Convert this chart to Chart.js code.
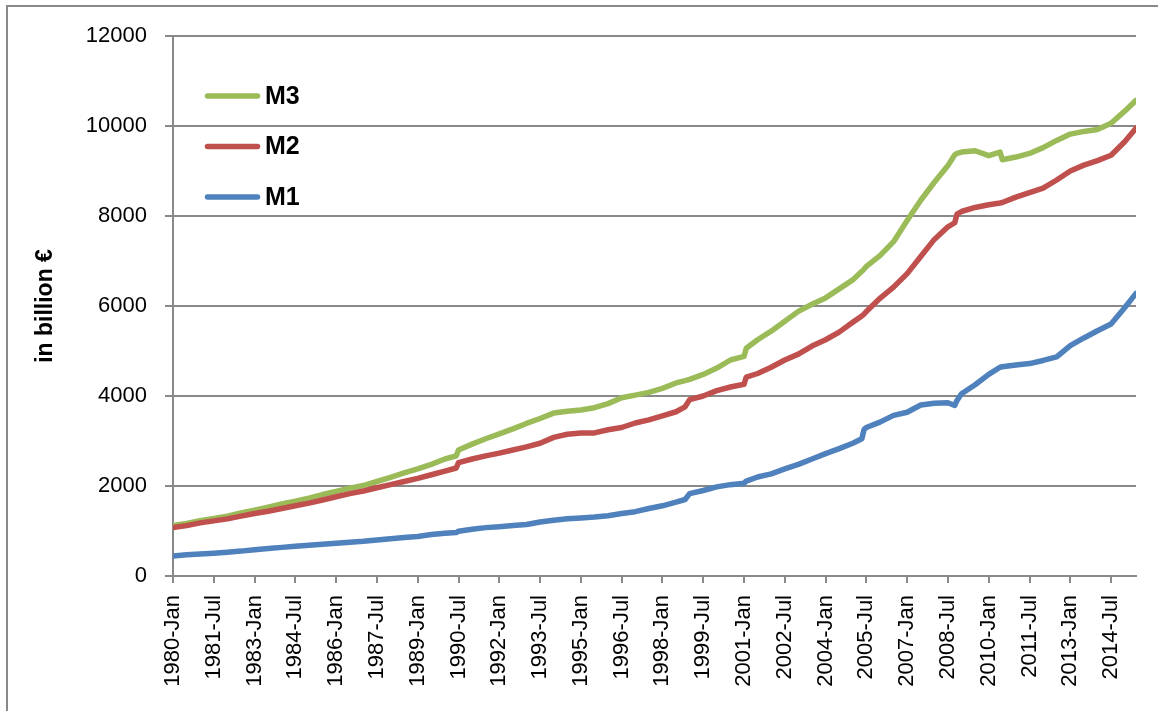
<!DOCTYPE html>
<html>
<head>
<meta charset="utf-8">
<title>M1 M2 M3</title>
<script src="https://cdn.jsdelivr.net/npm/chart.js@4.4.1/dist/chart.umd.min.js"></script>
<style>
  html, body { margin: 0; padding: 0; background: #fff; }
  #wrap { width: 1158px; height: 711px; }
</style>
</head>
<body>
<div id="wrap"><canvas id="moneyChart" width="1158" height="711"></canvas></div>
<script>
// month index, 0 = 1980-Jan
var months = [0, 6, 12, 18, 24, 30, 36, 42, 48, 54, 60, 66, 72, 78, 84, 90, 96, 102, 108, 114,
  120, 125, 126, 132, 138, 144, 150, 156, 162, 168, 174, 180, 186, 192, 198, 204, 210, 216, 222,
  226, 228, 234, 240, 246, 252, 253, 258, 264, 270, 276, 282, 288, 294, 300, 304, 305, 306, 312,
  318, 324, 330, 336, 342, 345, 346, 348, 354, 360, 365, 366, 372, 378, 384, 390, 396, 402, 408,
  414, 420, 425];

var m1 = [445, 470, 490, 508, 528, 553, 585, 612, 636, 660, 685, 707, 730, 752, 772, 800, 830, 855, 880, 920,
  950, 965, 995, 1040, 1075, 1095, 1120, 1145, 1200, 1240, 1270, 1290, 1310, 1340, 1390, 1430, 1500, 1560, 1640,
  1700, 1830, 1900, 1980, 2030, 2060, 2110, 2200, 2270, 2380, 2480, 2600, 2720, 2830, 2950, 3050, 3260, 3300, 3420,
  3570, 3640, 3800, 3840, 3850, 3790, 3900, 4050, 4250, 4480, 4640, 4650, 4690, 4720, 4790, 4870, 5120, 5290, 5450,
  5600, 5960, 6280];

var m2 = [1075, 1120, 1180, 1225, 1270, 1330, 1390, 1440, 1500, 1560, 1620, 1690, 1760, 1830, 1890, 1960, 2030, 2100, 2170, 2250,
  2330, 2400, 2520, 2600, 2670, 2730, 2800, 2870, 2950, 3080, 3150, 3180, 3180, 3250, 3300, 3400, 3470, 3560, 3650,
  3760, 3920, 4000, 4120, 4200, 4260, 4420, 4500, 4640, 4800, 4930, 5110, 5250, 5420, 5640, 5780, 5820, 5880, 6170,
  6420, 6720, 7100, 7480, 7760, 7850, 8040, 8100, 8190, 8250, 8290, 8300, 8420, 8520, 8620, 8800, 9000, 9130, 9230,
  9350, 9650, 9950];

var m3 = [1120, 1170, 1230, 1280, 1330, 1400, 1460, 1530, 1600, 1660, 1730, 1810, 1880, 1950, 2010, 2100, 2190, 2290, 2380, 2480,
  2600, 2670, 2800, 2930, 3050, 3160, 3270, 3390, 3500, 3620, 3660, 3690, 3740, 3830, 3960, 4020, 4080, 4170, 4290,
  4340, 4370, 4480, 4620, 4800, 4880, 5060, 5250, 5440, 5660, 5880, 6040, 6180, 6380, 6580, 6770, 6820, 6880, 7120,
  7430, 7900, 8350, 8750, 9120, 9360, 9390, 9420, 9450, 9340, 9420, 9250, 9310, 9390, 9520, 9680, 9820, 9880, 9920,
  10060, 10330, 10570];

var tickMonths = [0, 18, 36, 54, 72, 90, 108, 126, 144, 162, 180, 198, 216, 234, 252, 270, 288, 306, 324, 342, 360, 378, 396, 414];
var tickLabels = ['1980-Jan', '1981-Jul', '1983-Jan', '1984-Jul', '1986-Jan', '1987-Jul', '1989-Jan', '1990-Jul',
  '1992-Jan', '1993-Jul', '1995-Jan', '1996-Jul', '1998-Jan', '1999-Jul', '2001-Jan', '2002-Jul', '2004-Jan',
  '2005-Jul', '2007-Jan', '2008-Jul', '2010-Jan', '2011-Jul', '2013-Jan', '2014-Jul'];
var yTicks = [0, 2000, 4000, 6000, 8000, 10000, 12000];

var FONT = '"Liberation Sans", Arial, sans-serif';
var GRID = '#898989';

function points(values) {
    return values.map(function(v, i) { return { x: months[i], y: v }; });
}

// white background + the outer chart frame
var framePlugin = {
    id: 'frame',
    beforeDraw: function(chart) {
        var ctx = chart.ctx;
        ctx.save();
        ctx.fillStyle = '#fff';
        ctx.fillRect(0, 0, chart.width, chart.height);
        ctx.strokeStyle = GRID;
        ctx.lineWidth = 2;
        ctx.beginPath();
        ctx.moveTo(7, chart.height);
        ctx.lineTo(7, 6);
        ctx.lineTo(chart.width, 6);
        ctx.stroke();
        ctx.restore();
    }
};

// legend sits inside the plot, top left, M3 first
var legendPlugin = {
    id: 'insideLegend',
    afterDraw: function(chart) {
        var ctx = chart.ctx, area = chart.chartArea;
        var items = chart.data.datasets.slice().reverse();
        ctx.save();
        ctx.font = 'bold 25px ' + FONT;
        ctx.textBaseline = 'middle';
        items.forEach(function(ds, i) {
            var y = area.top + 60 + i * 50.5;
            ctx.strokeStyle = ds.borderColor;
            ctx.lineWidth = 5.5;
            ctx.lineCap = 'round';
            ctx.beginPath();
            ctx.moveTo(area.left + 34.5, y);
            ctx.lineTo(area.left + 84.5, y);
            ctx.stroke();
            ctx.fillStyle = '#000';
            ctx.fillText(ds.label, area.left + 92, y + 1);
        });
        ctx.restore();
    }
};

new Chart(document.getElementById('moneyChart'), {
    type: 'line',
    data: {
        datasets: [
            { label: 'M1', data: points(m1), borderColor: '#4F81BD' },
            { label: 'M2', data: points(m2), borderColor: '#C0504D' },
            { label: 'M3', data: points(m3), borderColor: '#9BBB59' }
        ]
    },
    options: {
        responsive: false,
        animation: false,
        layout: { padding: { left: 0, right: 22, top: 36, bottom: 0 } },
        elements: {
            line: { borderWidth: 5.5, tension: 0, borderCapStyle: 'round', borderJoinStyle: 'round', fill: false },
            point: { radius: 0, hoverRadius: 0 }
        },
        plugins: {
            legend: { display: false },
            tooltip: { enabled: false }
        },
        scales: {
            x: {
                type: 'linear',
                min: 0,
                max: 425,
                afterBuildTicks: function(scale) {
                    scale.ticks = tickMonths.map(function(v) { return { value: v }; });
                },
                afterFit: function(scale) { scale.height = 135; },
                grid: { drawOnChartArea: false, color: GRID, lineWidth: 2, tickLength: 7 },
                border: { color: GRID, width: 2 },
                ticks: {
                    autoSkip: false,
                    minRotation: 90,
                    maxRotation: 90,
                    padding: 12,
                    color: '#000',
                    font: { family: FONT, size: 22 },
                    callback: function(value, index) { return tickLabels[index]; }
                }
            },
            y: {
                min: 0,
                max: 12000,
                afterBuildTicks: function(scale) {
                    scale.ticks = yTicks.map(function(v) { return { value: v }; });
                },
                afterFit: function(scale) { scale.width = 173; },
                grid: { color: GRID, lineWidth: 2, tickLength: 8 },
                border: { color: GRID, width: 2 },
                ticks: {
                    padding: 18,
                    color: '#000',
                    font: { family: FONT, size: 22 },
                    callback: function(value) { return String(value); }
                },
                title: {
                    display: true,
                    text: 'in billion €',
                    color: '#000',
                    font: { family: FONT, size: 23, weight: 'bold' },
                    padding: { top: 32, bottom: 0 }
                }
            }
        }
    },
    plugins: [framePlugin, legendPlugin]
});
</script>
</body>
</html>
